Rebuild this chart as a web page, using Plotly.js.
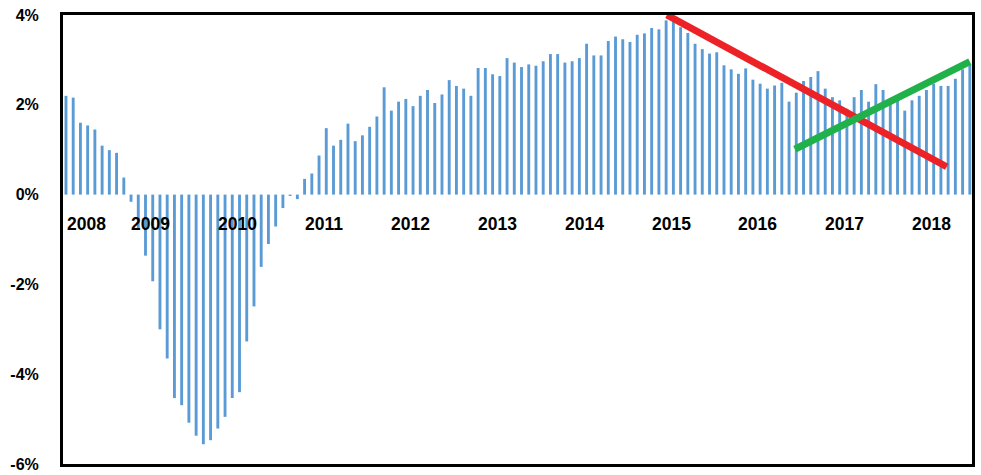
<!DOCTYPE html>
<html>
<head>
<meta charset="utf-8">
<script src="https://cdn.plot.ly/plotly-3.0.1.min.js"></script>
<style>
  html, body { margin: 0; padding: 0; background: #fff; }
  #chart { width: 981px; height: 475px; }
</style>
</head>
<body>
<div id="chart"></div>
<script>
// monthly growth, % y/y, Jan 2008 .. Jun 2018
const growth = [
    2.2, 2.16, 1.6, 1.54, 1.45, 1.09, 0.99, 0.93, 0.38, -0.16, -0.75, -1.36,
    -1.93, -3.0, -3.65, -4.53, -4.69, -5.08, -5.37, -5.56, -5.47, -5.21, -4.95, -4.53,
    -4.4, -3.27, -2.49, -1.61, -1.1, -0.71, -0.3, -0.03, -0.1, 0.35, 0.47, 0.87,
    1.48, 1.09, 1.22, 1.58, 1.19, 1.32, 1.51, 1.74, 2.39, 1.87, 2.07, 2.13,
    1.97, 2.2, 2.33, 2.04, 2.23, 2.55, 2.42, 2.36, 2.2, 2.82, 2.82, 2.68,
    2.64, 3.04, 2.94, 2.84, 2.9, 2.87, 2.97, 3.13, 3.13, 2.94, 2.97, 3.04,
    3.36, 3.1, 3.1, 3.42, 3.52, 3.46, 3.4, 3.56, 3.59, 3.71, 3.68, 3.88,
    3.85, 3.73, 3.6, 3.36, 3.24, 3.14, 3.17, 2.88, 2.79, 2.69, 2.81, 2.56,
    2.47, 2.36, 2.43, 2.49, 2.07, 2.27, 2.53, 2.62, 2.75, 2.36, 2.17, 2.1,
    1.91, 2.17, 2.33, 2.07, 2.46, 2.33, 2.1, 2.2, 1.87, 2.1, 2.2, 2.33,
    2.47, 2.42, 2.42, 2.58, 2.79, 2.9
];
const months = growth.map((_, i) => i);

// year labels and the month index they sit on
const yearLabels = ['2008', '2009', '2010', '2011', '2012', '2013', '2014', '2015', '2016', '2017', '2018'];
const yearIdx = [0, 11.7, 23.7, 35.7, 47.7, 59.7, 71.7, 83.7, 95.7, 107.7, 119.7];

// trend lines (month index, %)
const downX = [83.1, 121.8];
const downY = [4.0, 0.62];
const upX = [100.8, 125.0];
const upY = [1.01, 2.96];

const yTicks = [-6, -4, -2, 0, 2, 4];
const yTickText = ['-6%', '-4%', '-2%', '0%', '2%', '4%'];

const bars = {
    x: months,
    y: growth,
    type: 'bar',
    marker: {color: '#5b9bd5'},
    hoverinfo: 'skip'
};
const down = {
    x: downX, y: downY, mode: 'lines', type: 'scatter',
    line: {color: '#ec2227', width: 7}
};
const up = {
    x: upX, y: upY, mode: 'lines', type: 'scatter',
    line: {color: '#21b14b', width: 7}
};

const labelFont = {family: 'Liberation Sans, Arial', size: 17.5, color: '#000'};
const annotations = yearLabels.map((t, i) => ({
    x: yearIdx[i], y: -0.65,
    xref: 'x', yref: 'y',
    text: '<b>' + t + '</b>', showarrow: false,
    xanchor: i === 0 ? 'left' : 'center', yanchor: 'middle',
    borderpad: 0,
    font: labelFont
}));

const layout = {
    width: 981,
    height: 475,
    margin: {l: 63, r: 9, t: 15, b: 11},
    showlegend: false,
    bargap: 0.6,
    plot_bgcolor: '#fff',
    paper_bgcolor: '#fff',
    xaxis: {
        range: [-0.41, 125.3],
        showticklabels: false,
        showgrid: false, zeroline: false, ticks: '',
        showline: true, mirror: true, linewidth: 3, linecolor: '#000'
    },
    yaxis: {
        range: [-6, 4],
        tickmode: 'array',
        tickvals: yTicks,
        ticktext: yTickText.map(t => '<b>' + t + '</b>'),
        showgrid: false, zeroline: false, ticks: '',
        ticklabelstandoff: 18,
        tickfont: {family: 'Liberation Sans, Arial', size: 16, color: '#000'},
        showline: true, mirror: true, linewidth: 3, linecolor: '#000'
    },
    annotations: annotations
};

Plotly.newPlot('chart', [bars, down, up], layout, {displayModeBar: false, staticPlot: true});
</script>
</body>
</html>
